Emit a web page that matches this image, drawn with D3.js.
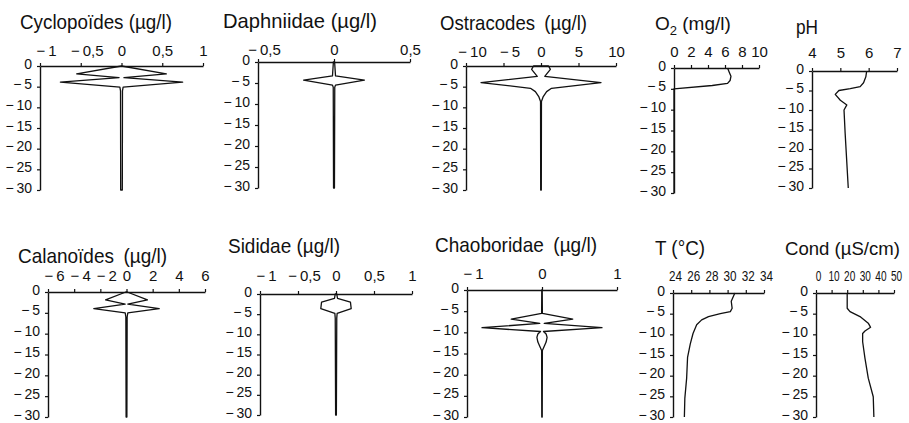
<!DOCTYPE html>
<html>
<head>
<meta charset="utf-8">
<script src="https://cdn.jsdelivr.net/npm/d3@7"></script>
<style>
  body { margin: 0; background: #fff; }
  text { font-family: "Liberation Sans", Arial, sans-serif; fill: #111; }
</style>
</head>
<body>
<div class="chart"></div>
<script>
// depth profiles (depth in m, negative downwards)
var depthTicks = [0, -5, -10, -15, -20, -25, -30];

var cycloDepth = [0, -1.9, -2.8, -3.9, -5.1, -6, -30];
var cycloVals  = [0, 0.55, 0.03, 0.75, 0.02, 0.012, 0.01];

var daphDepth = [0, -3.3, -4.3, -5.5, -6, -30];
var daphVals  = [0.004, 0.01, 0.2, 0.01, 0.005, 0.003];

var ostraDepth = [0, -0.8, -2.5, -4, -5.4, -6.2, -7.4, -8.6, -30];
var ostraVals  = [1.0, 1.25, 0.5, 8, 1.4, 0.75, 0.3, 0.06, 0.04];

var o2Depth = [0, -1, -2, -3, -3.7, -4.2, -5, -30];
var o2Vals  = [6.3, 6.5, 6.7, 6.6, 6.3, 4.5, 0, 0];

var phDepth = [0, -1.5, -3, -4, -4.5, -5, -6, -7.5, -8.7, -10, -16, -30];
var phVals  = [5.93, 5.9, 5.82, 5.7, 5.35, 4.95, 4.82, 5.0, 5.23, 5.13, 5.17, 5.28];

var calaDepth = [0, -1.9, -2.9, -4, -5, -6, -30];
var calaVals  = [0.05, 1.6, 0.1, 2.5, 0.1, 0.05, 0.03];

var sidiDepth = [0, -1.1, -2, -3.6, -4.8, -6, -30];
var sidiVals  = [0.01, 0.02, 0.19, 0.2, 0.015, 0.01, 0.005];

var chaoDepth = [0, -5.5, -6.9, -7.9, -8.9, -9.8, -10.4, -11.2, -12.3, -13.3, -14.3, -30];
var chaoVals  = [0.003, 0.005, 0.41, 0.03, 0.8, 0.02, 0.055, 0.068, 0.055, 0.03, 0.005, 0.003];

var tempDepth = [0, -2, -3.7, -4.5, -5, -5.7, -6.5, -7.7, -9.8, -12.3, -15.6, -20.6, -25.5, -30];
var tempVals  = [30.8, 30.4, 30.5, 30.3, 29.2, 27.9, 27.15, 26.6, 26.2, 25.9, 25.6, 25.5, 25.3, 25.25];

var condDepth = [0, -3.7, -4.5, -5.7, -7.3, -8.3, -9.2, -9.8, -11.8, -15.8, -20.6, -25.1, -30];
var condVals  = [20, 20, 21.8, 28.2, 33.5, 35, 31.4, 29.9, 29.9, 31.4, 33.5, 36.7, 37.1];

// x tick labels per panel
var cycloTicks = [-1, -0.5, 0, 0.5, 1];
var daphTicks = [-0.5, 0, 0.5];
var ostraTicks = [-10, -5, 0, 5, 10];
var o2Ticks = [0, 2, 4, 6, 8, 10];
var phTicks = [4, 5, 6, 7];
var calaTicks = [-6, -4, -2, 0, 2, 4, 6];
var sidiTicks = [-1, -0.5, 0, 0.5, 1];
var chaoTicks = [-1, 0, 1];
var tempTicks = [24, 26, 28, 30, 32, 34];
var condTicks = [0, 10, 20, 30, 40, 50];

var svgWidth = 909;
var svgHeight = 423;

var svg = d3.select(".chart")
  .append("svg")
  .attr("width", svgWidth)
  .attr("height", svgHeight);

// panel placement (pixels): y axis at x0, axis end x1, depth 0 at y0, depth -30 at y1
// tw = title width (squeezed), fs = title size, cw = squeezed width per character of x tick labels
var panels = [
  { title: ["Cyclopoïdes (µg/l)"], tx: 20, ty: 29, tw: 152, fs: 21, x0: 40, x1: 203, y0: 66, y1: 190, lab: 56,
    domain: [-1, 1], ticks: cycloTicks, depth: cycloDepth, vals: cycloVals, kite: true },
  { title: ["Daphniidae (µg/l)"], tx: 223, ty: 28, tw: 154, fs: 21, x0: 258, x1: 410, y0: 62, y1: 188, lab: 55,
    domain: [-0.5, 0.5], ticks: daphTicks, depth: daphDepth, vals: daphVals, kite: true },
  { title: ["Ostracodes\u2002(µg/l)"], tx: 440, ty: 30, tw: 147, fs: 21, x0: 466, x1: 616, y0: 66, y1: 190, lab: 57,
    domain: [-10, 10], ticks: ostraTicks, depth: ostraDepth, vals: ostraVals, kite: true },
  { title: ["O", "2", " (mg/l)"], tx: 655, ty: 30, fs: 19, x0: 674, x1: 759, y0: 68, y1: 193, lab: 57,
    domain: [0, 10], ticks: o2Ticks, depth: o2Depth, vals: o2Vals, kite: false },
  { title: ["pH"], tx: 796, ty: 34, tw: 22, fs: 21, x0: 812, x1: 897, y0: 71, y1: 188, lab: 58,
    domain: [4, 7], ticks: phTicks, depth: phDepth, vals: phVals, kite: false },
  { title: ["Calanoïdes\u2002(µg/l)"], tx: 18, ty: 263, tw: 149, fs: 21, x0: 48, x1: 205, y0: 292, y1: 417, lab: 281,
    domain: [-6, 6], ticks: calaTicks, depth: calaDepth, vals: calaVals, kite: true },
  { title: ["Sididae (µg/l)"], tx: 228, ty: 253, tw: 112, fs: 21, x0: 260, x1: 412, y0: 294, y1: 415, lab: 281,
    domain: [-1, 1], ticks: sidiTicks, depth: sidiDepth, vals: sidiVals, kite: true },
  { title: ["Chaoboridae\u2002(µg/l)"], tx: 435, ty: 252, tw: 162, fs: 21, x0: 467, x1: 617, y0: 290, y1: 417, lab: 279,
    domain: [-1, 1], ticks: chaoTicks, depth: chaoDepth, vals: chaoVals, kite: true },
  { title: ["T (°C)"], tx: 655, ty: 255, tw: 50, fs: 21, x0: 673, x1: 764, y0: 293, y1: 417, lab: 281, cw: 6.5,
    domain: [24, 34], ticks: tempTicks, depth: tempDepth, vals: tempVals, kite: false },
  { title: ["Cond (µS/cm)"], tx: 785, ty: 255, tw: 115, fs: 19, x0: 816, x1: 894, y0: 293, y1: 417, lab: 281, cw: 5.6,
    domain: [0, 50], ticks: condTicks, depth: condDepth, vals: condVals, kite: false }
];

function fmt(v) {
  var s = String(Math.abs(v)).replace(".", ",");
  return v < 0 ? "\u2212\u2009" + s : s;
}

panels.forEach(function(p) {
  var g = svg.append("g");

  var x = d3.scaleLinear().domain(p.domain).range([p.x0, p.x1]);
  var y = d3.scaleLinear().domain([-30, 0]).range([p.y1, p.y0]);

  // title
  var t = g.append("text")
    .attr("x", p.tx)
    .attr("y", p.ty)
    .attr("font-size", p.fs);
  if (p.tw) {
    t.attr("textLength", p.tw).attr("lengthAdjust", "spacingAndGlyphs");
  }
  t.append("tspan").text(p.title[0]);
  if (p.title.length > 1) {
    t.append("tspan").attr("dy", 5).attr("font-size", 13).text(p.title[1]);
    t.append("tspan").attr("dy", -5).text(p.title[2]);
  }

  // axes
  var topAxis = d3.axisTop(x)
    .tickValues(p.ticks)
    .tickFormat(fmt)
    .tickSize(3)
    .tickSizeOuter(0)
    .tickPadding(p.y0 - p.lab - 3);

  var leftAxis = d3.axisLeft(y)
    .tickValues(depthTicks)
    .tickFormat(fmt)
    .tickSize(3)
    .tickSizeOuter(0)
    .tickPadding(5);

  var gx = g.append("g")
    .attr("transform", `translate(0, ${p.y0})`)
    .call(topAxis);
  var gy = g.append("g")
    .attr("transform", `translate(${p.x0}, 0)`)
    .call(leftAxis);

  [gx, gy].forEach(function(a) {
    a.attr("font-family", null).attr("font-size", null);
    a.select(".domain").attr("stroke", "#111").attr("stroke-width", 1.4);
    a.selectAll(".tick line").attr("stroke", "#111").attr("stroke-width", 1.2);
    a.selectAll(".tick text").attr("fill", "#111");
  });

  gx.selectAll(".tick text")
    .attr("font-size", 15)
    .attr("dy", 0)
    .attr("dx", d => d < 0 ? 6 : (p.cw ? 2 : 0));
  if (p.cw) {
    gx.selectAll(".tick text")
      .attr("textLength", d => fmt(d).length * p.cw)
      .attr("lengthAdjust", "spacingAndGlyphs");
  }
  gy.selectAll(".tick text")
    .attr("font-size", 14)
    .attr("dy", "0.15em");

  // profile
  var pts;
  if (p.kite) {
    var right = p.depth.map((d, i) => [p.vals[i], d]);
    var left = p.depth.map((d, i) => [-p.vals[i], d]).reverse();
    pts = right.concat(left);
  } else {
    pts = p.depth.map((d, i) => [p.vals[i], d]);
  }

  var line = d3.line()
    .x(d => x(d[0]))
    .y(d => y(d[1]));

  g.append("path")
    .attr("d", line(pts) + (p.kite ? "Z" : ""))
    .attr("fill", "none")
    .attr("stroke", "#111")
    .attr("stroke-width", 1.3)
    .attr("stroke-linejoin", "round");
});
</script>
</body>
</html>
